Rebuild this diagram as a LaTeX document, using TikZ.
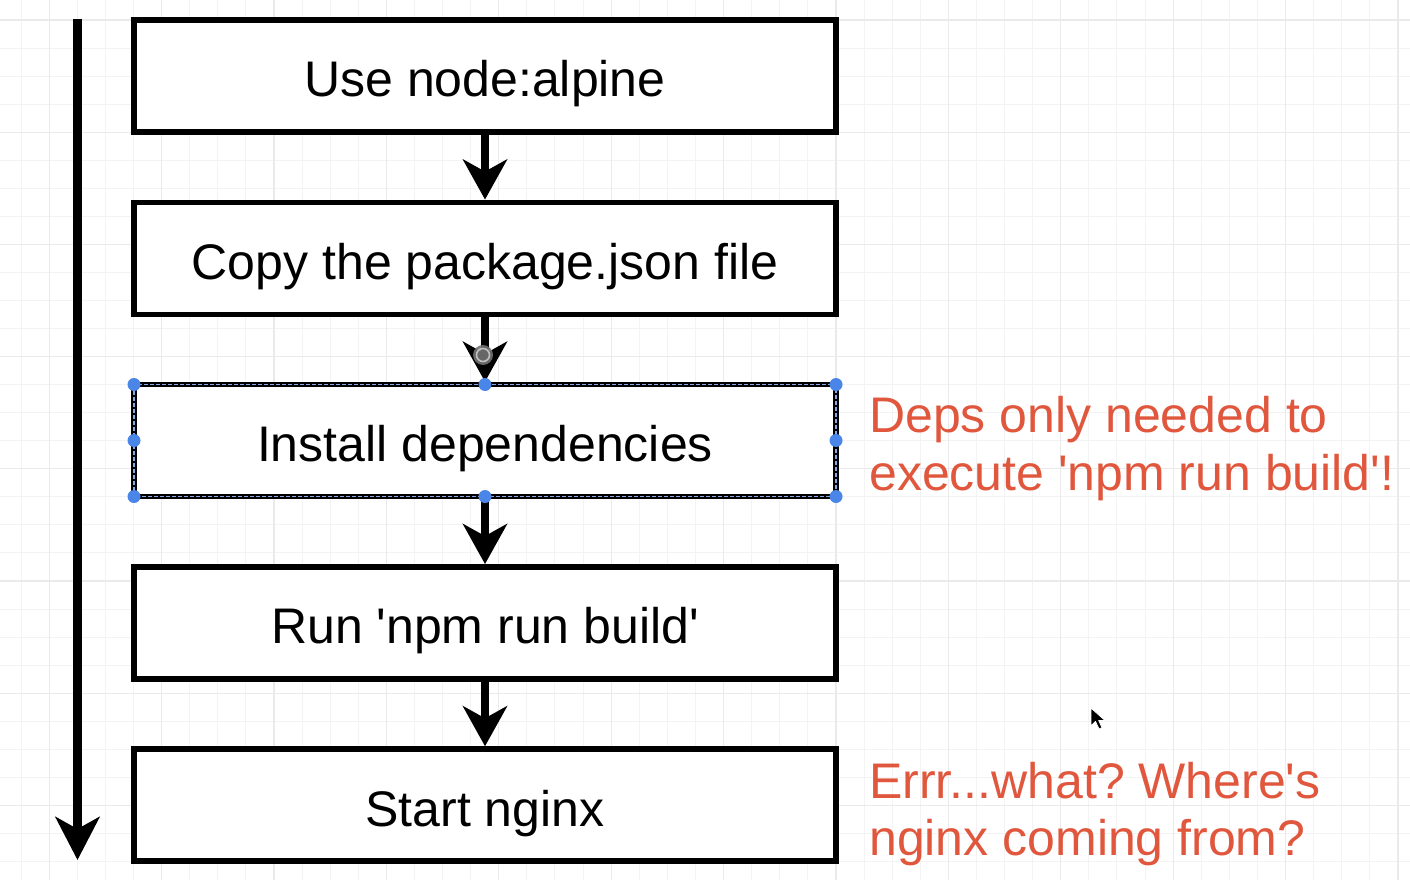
\documentclass[tikz,border=0pt]{standalone}
\usepackage{fontspec}
\setmainfont{Liberation Sans}
\usetikzlibrary{arrows.meta,calc}
\definecolor{gridminor}{HTML}{F3F3F3}
\definecolor{gridmajor}{HTML}{EAEAEA}
\definecolor{notered}{HTML}{E0573D}
\definecolor{handleblue}{HTML}{4A86E8}
\definecolor{dashblue}{HTML}{86AAE6}
\tikzset{
  stepbox/.style={draw=black, line width=5.5pt, fill=white, minimum width=702pt,
    minimum height=112pt, inner sep=0pt, outer sep=0pt, text height=42pt, text depth=0pt,
    font=\fontsize{50}{57}\selectfont},
  flowarrow/.style={line width=8pt, shorten >=2.75pt,
    -{Stealth[length=40pt,width=44pt,inset=12pt]}},
  mainarrow/.style={line width=8.3pt, -{Stealth[length=43pt,width=44pt,inset=12pt]}},
  notetext/.style={text=notered, font=\fontsize{50}{57}\selectfont, inner sep=0pt, anchor=base west},
  handle/.style={circle, fill=handleblue, minimum size=13pt, inner sep=0pt},
  selline/.style={draw=dashblue, line width=1.6pt, dash pattern=on 4pt off 2pt},
  gridthin/.style={draw=gridminor, line width=1pt},
  gridthick/.style={draw=gridmajor, line width=1.2pt}
}
\frenchspacing
\begin{document}
\begin{tikzpicture}[x=1pt,y=-1pt]
\useasboundingbox (0,0) rectangle (1410,880);
\fill[white] (0,0) rectangle (1410,880);
% grid
\foreach \k in {0,...,49}{\pgfmathsetmacro\gx{21+28.1*\k}\draw[gridthin] (\gx,0) -- (\gx,880);}
\foreach \k in {0,...,30}{\pgfmathsetmacro\gy{20+28.05*\k}\draw[gridthin] (0,\gy) -- (1410,\gy);}
\foreach \k in {1,5,...,49}{\pgfmathsetmacro\gx{21+28.1*\k}\draw[gridthick] (\gx,0) -- (\gx,880);}
\foreach \k in {0,4,...,28}{\pgfmathsetmacro\gy{20+28.05*\k}\draw[gridthick] (0,\gy) -- (1410,\gy);}

% left timeline arrow
\coordinate (ltop) at (77.5,19);
\coordinate (lbot) at (77.5,860);
\draw[mainarrow] (ltop) -- (lbot);

% boxes
\node[stepbox] (s1) at (485,76) {Use node:alpine};
\node[stepbox] (s2) at (485,258.3) {Copy the package.json file};
\node[stepbox] (s3) at (485,440.5) {Install dependencies};
\node[stepbox] (s4) at (485,622.8) {Run \textquotesingle npm run build\textquotesingle};
\node[stepbox] (s5) at (485,805) {Start nginx};

% connectors
\draw[flowarrow] (s1.south) -- (s2.north);
\draw[flowarrow] (s2.south) -- (s3.north);
\draw[flowarrow] (s3.south) -- (s4.north);
\draw[flowarrow] (s4.south) -- (s5.north);

% selection of box 3
\draw[selline] (s3.north west) rectangle (s3.south east);
\node[handle] (h1) at (s3.north west) {};
\node[handle] (h2) at (s3.north) {};
\node[handle] (h3) at (s3.north east) {};
\node[handle] (h4) at (s3.west) {};
\node[handle] (h5) at (s3.east) {};
\node[handle] (h6) at (s3.south west) {};
\node[handle] (h7) at (s3.south) {};
\node[handle] (h8) at (s3.south east) {};

% rotate handle
\node[circle, fill=black!55, minimum size=20pt, inner sep=0pt, opacity=0.9] (rot) at (483,355) {};
\draw[white!75!black, line width=1.6pt] (rot.center) circle (6.5pt);
\fill[black!60] (rot.center) circle (3pt);

% notes
\node[notetext] (n1a) at (869,432.7) {Deps only needed to};
\node[notetext] (n1b) at (869,490) {execute \textquotesingle npm run build\textquotesingle !};
\node[notetext] (n2a) at (869,798.3) {Errr...what? Where\textquotesingle s};
\node[notetext] (n2b) at (869,855.6) {nginx coming from?};

% mouse cursor
\filldraw[fill=black, draw=white, line width=0.8pt, line join=round]
  (1091,708) -- ++(0,18) -- ++(4.5,-4.5) -- ++(3.5,7.5) -- ++(3,-1.3) -- ++(-3.3,-7.2) -- ++(6.3,0) -- cycle;
\end{tikzpicture}
\end{document}
